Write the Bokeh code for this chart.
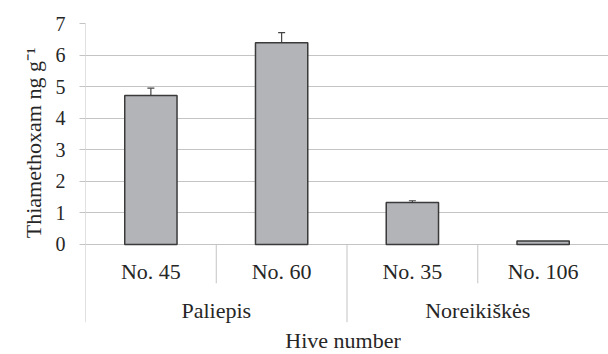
from bokeh.plotting import figure
from bokeh.models import Range1d, FixedTicker, ColumnDataSource, Whisker, TeeHead, Title
from bokeh.core.properties import value
from bokeh.embed import file_html
from bokeh.resources import INLINE

hives = ["No. 45", "No. 60", "No. 35", "No. 106"]
sites = ["Paliepis", "Noreikiškės"]
site_of_hive = ["Paliepis", "Paliepis", "Noreikiškės", "Noreikiškės"]
values = [4.72, 6.39, 1.33, 0.11]
errors = [0.23, 0.32, 0.055, 0.0]
y_ticks = [0, 1, 2, 3, 4, 5, 6, 7]
y_title = "Thiamethoxam ng g\u207b\u00b9"
x_title = "Hive number"

FONT = "'Liberation Serif', 'Times New Roman', serif"
TXT = "#262626"
GRID = "#c4c4c4"

n = len(hives)
x_centers = [i + 0.5 for i in range(n)]

p = figure(width=608, height=354, output_backend="svg", toolbar_location=None,
           x_range=Range1d(0, 4.0), y_range=Range1d(-3.485, 7),
           min_border_left=85, min_border_top=23, min_border_bottom=0, min_border_right=0)
p.outline_line_color = None
p.xaxis.visible = False
p.xgrid.visible = False
p.ygrid.ticker = FixedTicker(ticks=y_ticks)
p.ygrid.grid_line_color = GRID
p.ygrid.grid_line_width = 1

ya = p.yaxis[0]
ya.ticker = FixedTicker(ticks=y_ticks)
ya.axis_line_color = None
ya.major_tick_out = 6
ya.major_tick_in = 0
ya.major_tick_line_color = GRID
ya.minor_tick_line_color = None
ya.major_label_standoff = 14
ya.major_label_text_font = FONT
ya.major_label_text_font_size = "20px"
ya.major_label_text_color = TXT

# y-axis title in the left border, its top end placed below the frame top
yt = Title(text=y_title, align="right", offset=24, standoff=13,
           text_font=FONT, text_font_size="22px", text_font_style="normal",
           text_color=TXT)
p.add_layout(yt, "left")

# axis line and category separators
ymin_short = -1.23
ymin_long = -2.46
sep_x = [0, 1, 2, 3, 4]
sep_y1 = [ymin_long, ymin_short, ymin_long, ymin_short, ymin_long]
p.segment(x0=sep_x, y0=[0] * 5, x1=sep_x, y1=sep_y1, line_color=GRID, line_width=1)
p.segment(x0=[0], y0=[0], x1=[0], y1=[7], line_color=GRID, line_width=1)

src = ColumnDataSource(dict(x=x_centers, top=values,
                            upper=[v + e for v, e in zip(values, errors)],
                            lower=[v - e for v, e in zip(values, errors)],
                            label=hives))
p.vbar(x="x", top="top", bottom=0, width=0.40, source=src,
       fill_color="#b3b4b8", line_color="#3a3a3a", line_width=1.5)

err_src = ColumnDataSource(dict(x=x_centers[:3], upper=src.data["upper"][:3], lower=src.data["lower"][:3]))
w = Whisker(base="x", upper="upper", lower="lower", source=err_src,
            line_color="#444444", line_width=1.2,
            upper_head=TeeHead(size=7, line_color="#444444", line_width=1.2),
            lower_head=TeeHead(size=7, line_color="#444444", line_width=1.2))
p.add_layout(w)

p.text(x="x", y=-0.86, text="label", source=src, text_font=value(FONT),
       text_font_size="22px", text_color=TXT, text_align="center", text_baseline="middle")

site_x = [1.0, 3.0]
p.text(x=site_x, y=[-2.08] * 2, text=sites, text_font=value(FONT),
       text_font_size="22px", text_color=TXT, text_align="center", text_baseline="middle")

p.text(x=[1.97], y=[-3.03], text=[x_title], text_font=value(FONT),
       text_font_size="22px", text_color=TXT, text_align="center", text_baseline="middle")

open("out.html", "w").write(file_html(p, INLINE))
